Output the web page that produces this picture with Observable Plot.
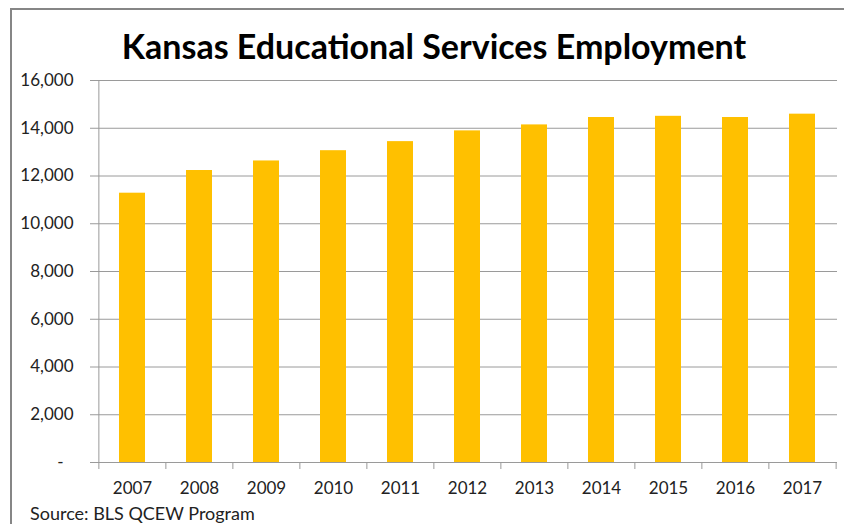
<!DOCTYPE html>
<html>
<head>
<meta charset="utf-8">
<script src="https://cdn.jsdelivr.net/npm/d3@7"></script>
<script src="https://cdn.jsdelivr.net/npm/@observablehq/plot@0.6"></script>
<style>
  html, body { margin: 0; padding: 0; background: #fff; }
  #wrap { position: relative; width: 844px; height: 524px; overflow: hidden; background: #fff; }
  #border { position: absolute; left: 10px; top: 8px; width: 900px; height: 600px; border: 2px solid #868686; box-sizing: border-box; }
  #title { position: absolute; left: 24px; width: 820px; top: 26px; text-align: center; font-family: Lato, sans-serif; font-weight: 700; font-size: 34px; line-height: 40px; color: #000; }
  #source { position: absolute; left: 30px; top: 503px; font-family: Lato, sans-serif; font-size: 18px; line-height: 20px; color: #222; }
  #chart { position: absolute; left: 0; top: 0; }
</style>
</head>
<body>
<div id="wrap">
  <div id="border"></div>
  <div id="title">Kansas Educational Services Employment</div>
  <div id="chart"></div>
  <div id="source">Source: BLS QCEW Program</div>
</div>
<script>
const years = ["2007","2008","2009","2010","2011","2012","2013","2014","2015","2016","2017"];
const employment = [11280, 12230, 12630, 13060, 13440, 13890, 14140, 14450, 14500, 14450, 14590];
const yTicks = [0, 2000, 4000, 6000, 8000, 10000, 12000, 14000, 16000];

const data = years.map((y, i) => ({year: y, value: employment[i]}));

const W = 844, H = 524;
const mL = 97, mR = 7, mT = 80, mB = 62;
const step = (W - mL - mR) / years.length;
const grey = "#9a9a9a";
const fmt = d => d === 0 ? "-\u2007" : d3.format(",")(d);

const plot = Plot.plot({
  width: W,
  height: H,
  marginLeft: mL,
  marginRight: mR,
  marginTop: mT,
  marginBottom: mB,
  style: {fontFamily: "Lato, sans-serif", fontSize: "17px", color: "#222", background: "transparent", overflow: "visible"},
  x: {type: "band", domain: years, paddingInner: 0.61, paddingOuter: 0.305, label: null},
  y: {domain: [0, 16000], label: null},
  marks: [
    Plot.gridY(yTicks.filter(d => d > 0), {stroke: grey, strokeOpacity: 1}),
    Plot.barY(data, {x: "year", y: "value", fill: "#FFC000"}),
    Plot.ruleY([0], {stroke: grey}),
    Plot.ruleX([years[0]], {dx: -step / 2, y1: 0, y2: 16000, stroke: grey}),
    Plot.axisY({ticks: yTicks, tickSize: 7, tickPadding: 17, tickFormat: fmt, stroke: grey, fill: "#222", fontSize: 17, label: null}),
    Plot.axisX({tickSize: 7, tickFormat: () => "", dx: -step / 2, stroke: grey, label: null}),
    Plot.axisX([years[years.length - 1]], {tickSize: 7, tickFormat: () => "", dx: step / 2, stroke: grey, label: null}),
    Plot.axisX({tickSize: 0, tickPadding: 19, fill: "#222", fontSize: 17, label: null})
  ]
});
document.getElementById("chart").appendChild(plot);
</script>
</body>
</html>
